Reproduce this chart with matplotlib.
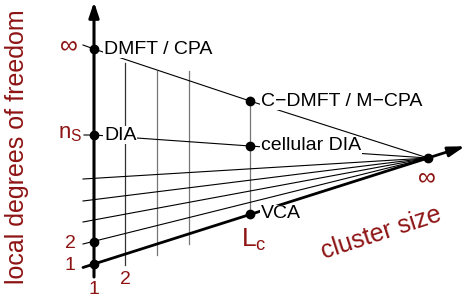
import matplotlib
matplotlib.use("Agg")
import matplotlib.pyplot as plt

plt.rcParams['font.family'] = ['Liberation Sans', 'DejaVu Sans']
plt.rcParams['mathtext.fontset'] = 'custom'
plt.rcParams['mathtext.rm'] = 'Liberation Sans'

# schematic drawn in picture units (x to the right, y downwards)
axis_x = 94
focus = (428, 158)
Lc_x = 250
bottom_slope = (158 - 264) / (428 - 94)

# levels on the vertical axis: inf, n_s, 2, 1
level_names = ["inf", "ns", "2", "1"]
level_y = [49, 135, 242, 264]

# method points at cluster size L_c
method_names = ["C\u2212DMFT / M\u2212CPA", "cellular DIA", "VCA"]
method_y = [101, 146, 214]
left_names = ["DMFT / CPA", "DIA"]

# extra fan lines (start height at left end)
fan_y = [179, 201, 222, 244]
fan_x0 = 83

# vertical lines for cluster sizes 2, 3, 4 (top, bottom)
grid_x = [125, 157, 189]
grid_top = [63, 71, 71]
grid_bot = [265, 255, 244]
grid_col = ['#333333', '#777777', '#777777']

red = '#8e1414'

fig = plt.figure(figsize=(4.66, 3.05), dpi=100)
ax = fig.add_axes([0, 0, 1, 1])
ax.set_xlim(0, 466)
ax.set_ylim(305, 0)
ax.axis('off')

# vertical grid lines
for x, t, b, c in zip(grid_x, grid_top, grid_bot, grid_col):
    ax.plot([x, x], [t, b], color=c, lw=0.9)
ax.plot([Lc_x, Lc_x], [97, 218], color='#777777', lw=0.9)

# fan lines to infinity
for y0 in fan_y:
    ax.plot([fan_x0, focus[0]], [y0, focus[1]], color='black', lw=0.8)
ax.plot([83, axis_x, Lc_x, focus[0]], [45, level_y[0], method_y[0], focus[1]],
        color='black', lw=0.8)
ax.plot([84, axis_x, Lc_x, focus[0]], [135, level_y[1], method_y[1], focus[1]],
        color='black', lw=0.8)

# thick axes with arrows
ax.annotate('', xy=(axis_x, 2), xytext=(axis_x, 277),
            arrowprops=dict(arrowstyle='-|>,head_length=0.9,head_width=0.3',
                            lw=2.2, color='black', shrinkA=0, shrinkB=0))
x_end = 465
ax.annotate('', xy=(x_end, 264 + bottom_slope * (x_end - axis_x)),
            xytext=(83, 264 + bottom_slope * (83 - axis_x)),
            arrowprops=dict(arrowstyle='-|>,head_length=1.0,head_width=0.3',
                            lw=2.0, color='black', shrinkA=0, shrinkB=0))

# dots
ax.plot([axis_x] * len(level_y), level_y, 'o', color='black', ms=6, zorder=5)
ax.plot([Lc_x] * len(method_y), method_y, 'o', color='black', ms=6, zorder=5)
ax.plot([focus[0]], [focus[1]], 'o', color='black', ms=6, zorder=5)

# method labels (white box hides lines behind)
box = dict(facecolor='white', edgecolor='none', pad=0.5)
for name, y in zip(left_names, level_y[:2]):
    ax.text(104, y, name, fontsize=14, va='center', ha='left', bbox=box, zorder=4)
for name, y in zip(method_names, method_y):
    ax.text(261, y, name, fontsize=14, va='center', ha='left', bbox=box, zorder=4)

# red axis labels
ax.text(69, 45, '\u221e', fontsize=18, color=red, ha='center', va='center')
ax.text(82, 134, r'$\mathrm{n_S}$', fontsize=16, color=red, ha='right', va='center')
ax.text(70, 244, '2', fontsize=14, color=red, ha='center', va='center')
ax.text(70, 266, '1', fontsize=14, color=red, ha='center', va='center')
ax.text(94, 290, '1', fontsize=14, color=red, ha='center', va='center')
ax.text(125, 280, '2', fontsize=14, color=red, ha='center', va='center')
ax.text(254, 240, r'$\mathrm{L_c}$', fontsize=19, color=red, ha='center', va='center')
ax.text(427, 177, '\u221e', fontsize=18, color=red, ha='center', va='center')

ax.text(17, 147, 'local degrees of freedom', fontsize=18, color=red,
        rotation=90, ha='center', va='center')
ax.text(381, 233, 'cluster size', fontsize=18, color=red,
        rotation=18, ha='center', va='center', rotation_mode='anchor')

fig.savefig('out.png', dpi=100)
